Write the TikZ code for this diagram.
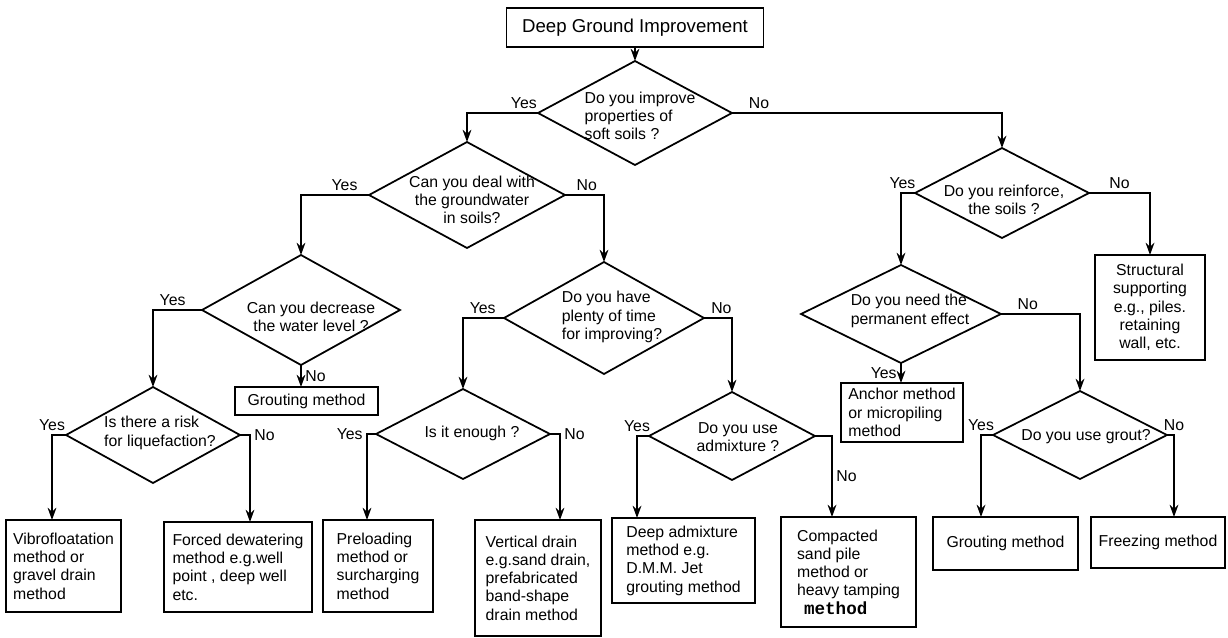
\documentclass[tikz,border=0pt]{standalone}
\usepackage{fontspec}
\setmainfont{Liberation Sans}
\newfontfamily\monob{Liberation Mono}
\usetikzlibrary{shapes.geometric, arrows.meta}

\tikzset{
  ask/.style={diamond, draw, line width=1pt, inner sep=0pt, outer sep=0pt},
  asktext/.style={font=\fontsize{9}{10.4}\selectfont, inner sep=0pt},
  box/.style={rectangle, draw, line width=1pt, inner xsep=4pt, inner ysep=0pt,
    outer sep=0pt, align=left, font=\fontsize{9}{10.4}\selectfont},
  lbl/.style={font=\fontsize{9}{10.4}\selectfont, inner sep=2pt},
  flow/.style={line width=1pt, -{Stealth[length=7pt, width=5pt]}},
}

\begin{document}
\begin{tikzpicture}[x=0.02cm, y=-0.02cm]
  \useasboundingbox (0,0) rectangle (1228,637);

  % start
  \node (top) [box, align=center, minimum width=5.14cm, minimum height=0.78cm,
    font=\fontsize{10.6}{12}\selectfont] at (635,27.5) {Deep Ground Improvement};

  % questions
  \node (q1) [ask, minimum width=3.88cm, minimum height=2.08cm] at (635,113) {};
  \node (q2) [ask, minimum width=3.92cm, minimum height=2.12cm] at (467,195) {};
  \node (q3) [ask, minimum width=3.48cm, minimum height=1.80cm] at (1002,193) {};
  \node (q4) [ask, minimum width=3.96cm, minimum height=2.20cm] at (301,310) {};
  \node (q5) [ask, minimum width=4.00cm, minimum height=2.24cm] at (604,318) {};
  \node (q6) [ask, minimum width=3.48cm, minimum height=1.92cm] at (153,435) {};
  \node (q7) [ask, minimum width=4.00cm, minimum height=1.96cm] at (901,314) {};
  \node (q8) [ask, minimum width=3.48cm, minimum height=1.76cm] at (1080,435) {};
  \node (q9) [ask, minimum width=3.48cm, minimum height=1.80cm] at (463,434) {};
  \node (q10) [ask, minimum width=3.32cm, minimum height=1.76cm] at (732,436) {};

  \node (q1t) [asktext, align=left] at (640,116) {Do you improve\\properties of\\soft soils ?};
  \node (q2t) [asktext, align=center] at (472,200) {Can you deal with\\the groundwater\\in soils?};
  \node (q3t) [asktext, align=center] at (1004,200) {Do you reinforce,\\the soils ?};
  \node (q4t) [asktext, align=center] at (311,317) {Can you decrease\\the water level ?};
  \node (q5t) [asktext, align=left] at (612,317) {Do you have\\plenty of time\\for improving?};
  \node (q6t) [asktext, align=left] at (160,433) {Is there a risk\\for liquefaction?};
  \node (q7t) [asktext, align=left] at (910,311) {Do you need the\\permanent effect};
  \node (q8t) [asktext] at (1086,437) {Do you use grout?};
  \node (q9t) [asktext] at (472,433) {Is it enough ?};
  \node (q10t) [asktext, align=center] at (738,437) {Do you use\\admixture ?};

  % answers
  \node (grout1) [box, align=center, minimum width=2.86cm, minimum height=0.56cm] at (306.5,401) {Grouting method};
  \node (vibro) [box, minimum width=2.22cm, minimum height=1.84cm] at (63.5,566)
    {Vibrofloatation\\method or\\gravel drain\\method};
  \node (forced) [box, minimum width=2.96cm, minimum height=1.80cm] at (238,567)
    {Forced dewatering\\method e.g.well\\point , deep well\\etc.};
  \node (preload) [box, minimum width=2.20cm, minimum height=1.84cm] at (378,566)
    {Preloading\\method or\\surcharging\\method};
  \node (vert) [box, minimum width=2.52cm, minimum height=2.32cm] at (538,578)
    {Vertical drain\\e.g.sand drain,\\prefabricated\\band-shape\\drain method};
  \node (deepadm) [box, minimum width=2.86cm, minimum height=1.70cm] at (683.5,560.5)
    {Deep admixture\\method e.g.\\D.M.M. Jet\\grouting method};
  \node (compact) [box, minimum width=2.70cm, minimum height=2.20cm] at (848.5,572)
    {Compacted\\sand pile\\method or\\heavy tamping\\\hspace*{4pt}{\monob\bfseries\fontsize{10}{10.4}\selectfont method}};
  \node (grout2) [box, align=center, minimum width=2.90cm, minimum height=1.06cm] at (1005.5,543.5) {Grouting method};
  \node (freeze) [box, align=center, minimum width=2.68cm, minimum height=1.02cm] at (1158,542.5) {Freezing method};
  \node (anchor) [box, minimum width=2.44cm, minimum height=1.18cm] at (902,412.5)
    {Anchor method\\or micropiling\\method};
  \node (struct) [box, align=center, minimum width=2.20cm, minimum height=2.10cm] at (1150,307.5)
    {Structural\\supporting\\e.g., piles.\\retaining\\wall, etc.};

  % connectors
  \draw[flow] (top.south) -- (q1.north);
  \draw[flow] (q1.west) -| node[lbl, pos=0.1, above] {Yes} (q2.north);
  \draw[flow] (q1.east) -| node[lbl, pos=0.05, above] {No} (q3.north);
  \draw[flow] (q2.west) -| node[lbl, pos=0.18, above] {Yes} (q4.north);
  \draw[flow] (q2.east) -| node[lbl, pos=0.28, above] {No} (q5.north);
  \draw[flow] (q3.west) -| node[lbl, pos=0.45, above] {Yes} (q7.north);
  \draw[flow] (q3.east) -| node[lbl, pos=0.25, above] {No} (struct.north);
  \draw[flow] (q4.west) -| node[lbl, pos=0.3, above] {Yes} (q6.north);
  \draw[flow] (q4.south) -- node[lbl, right] {No} (q4.south |- grout1.north);
  \draw[flow] (q5.west) -| node[lbl, pos=0.26, above] {Yes} (q9.north);
  \draw[flow] (q5.east) -| node[lbl, pos=0.31, above] {No} (q10.north);
  \draw[flow] (q7.south) -- node[lbl, left] {Yes} (q7.south |- anchor.north);
  \draw[flow] (q7.east) -| node[lbl, pos=0.17, above] {No} (q8.north);
  \draw[flow] (q6.west) -| node[lbl, pos=0.5, above] {Yes} ([xshift=-0.23cm]vibro.north);
  \draw[flow] (q6.east) -| node[lbl, pos=0.5, right] {No} ([xshift=0.24cm]forced.north);
  \draw[flow] (q9.west) -| node[lbl, pos=0.5, left] {Yes} ([xshift=-0.22cm]preload.north);
  \draw[flow] (q9.east) -| node[lbl, pos=0.5, right] {No} ([xshift=0.44cm]vert.north);
  \draw[flow] (q10.west) -| node[lbl, pos=0.5, above] {Yes} ([xshift=-0.93cm]deepadm.north);
  \draw[flow] (q10.east) -| node[lbl, pos=0.75, right] {No} ([xshift=-0.33cm]compact.north);
  \draw[flow] (q8.west) -| node[lbl, pos=0.5, above] {Yes} ([xshift=-0.49cm]grout2.north);
  \draw[flow] (q8.east) -| node[lbl, pos=0.5, above] {No} ([xshift=0.32cm]freeze.north);
\end{tikzpicture}
\end{document}
